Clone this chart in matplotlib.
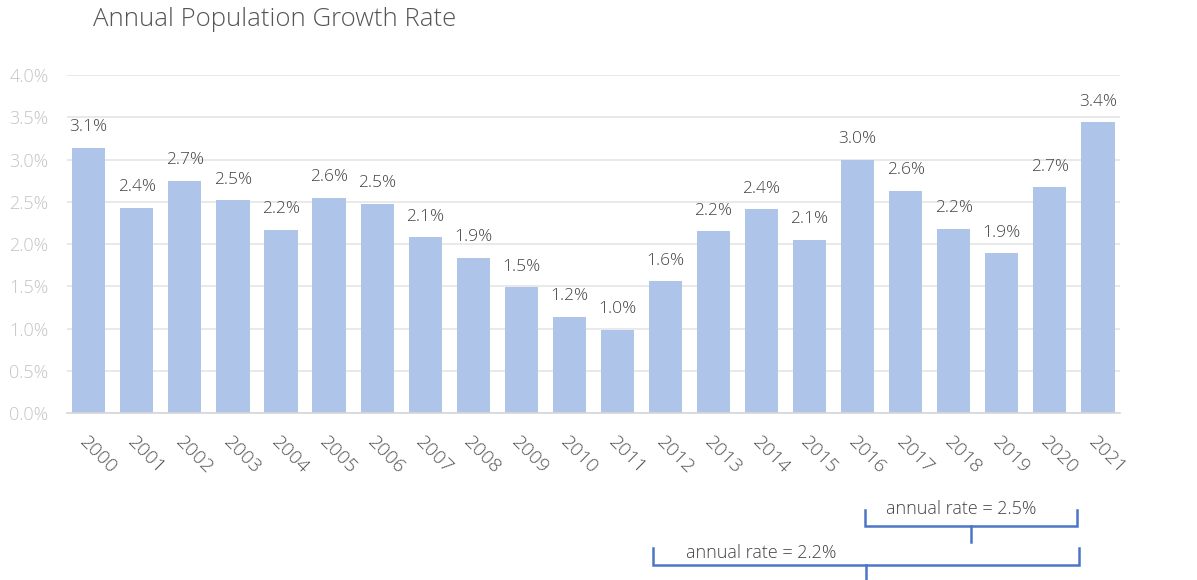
import matplotlib
matplotlib.use("Agg")
import matplotlib.pyplot as plt
import matplotlib.transforms as mtransforms

years = [str(y) for y in range(2000, 2022)]
rates = [3.14, 2.43, 2.75, 2.52, 2.17, 2.55, 2.48, 2.08, 1.84, 1.49, 1.14,
         0.99, 1.56, 2.15, 2.41, 2.05, 3.00, 2.63, 2.18, 1.89, 2.67, 3.44]
labels = ["3.1%", "2.4%", "2.7%", "2.5%", "2.2%", "2.6%", "2.5%", "2.1%", "1.9%",
          "1.5%", "1.2%", "1.0%", "1.6%", "2.2%", "2.4%", "2.1%", "3.0%", "2.6%",
          "2.2%", "1.9%", "2.7%", "3.4%"]
yticks = [0.0, 0.5, 1.0, 1.5, 2.0, 2.5, 3.0, 3.5, 4.0]
ytick_labels = ["0.0%", "0.5%", "1.0%", "1.5%", "2.0%", "2.5%", "3.0%", "3.5%", "4.0%"]
bracket_texts = ["annual rate = 2.5%", "annual rate = 2.2%"]

plt.rcParams['font.family'] = ['Open Sans', 'DejaVu Sans']
FW = "light"

fig = plt.figure(figsize=(11.97, 5.8), dpi=100)
ax = fig.add_axes([0.0557, 0.2874, 0.88, 0.5833])

x = list(range(len(years)))
ax.bar(x, rates, width=0.69, color="#afc4e9", zorder=2)
for xi, r, lab in zip(x, rates, labels):
    ax.annotate(lab, (xi, r), xytext=(0, 9), textcoords="offset points",
                ha="center", va="bottom", fontsize=12.5, color="#444444",
                fontweight=FW)

ax.set_xlim(-0.46, len(years) - 1 + 0.46)
ax.set_ylim(0, 4.0)
ax.set_yticks(yticks)
ax.set_yticklabels(ytick_labels, fontsize=13, color="#c4c4c4", fontweight=FW)
ax.set_xticks(x)
ax.set_xticklabels(years, rotation=-45, ha="left", va="top",
                   rotation_mode="anchor", fontsize=14, color="#555555",
                   fontweight=FW)
ax.tick_params(axis="both", length=0)
ax.tick_params(axis="y", pad=13)
ax.tick_params(axis="x", pad=14)
ax.grid(axis="y", color="#e3e3e3", linewidth=1.1, zorder=0)
for s in ["top", "right", "left"]:
    ax.spines[s].set_visible(False)
ax.spines["bottom"].set_color("#d6d6d6")
ax.spines["bottom"].set_linewidth(1.2)

fig.text(0.078, 0.966, "Annual Population Growth Rate", fontsize=18.5,
         color="#555555", ha="left", va="center", fontweight=FW)

# brackets
trans = mtransforms.blended_transform_factory(ax.transData, ax.transAxes)
bc = "#4a76c6"

def bracket(x0, x1, xm, ytop, ybar, ybot):
    ax.plot([x0, x0, x1, x1], [ytop, ybar, ybar, ytop], transform=trans,
            color=bc, lw=1.8, clip_on=False, solid_joinstyle="miter")
    ax.plot([xm, xm], [ybar, ybot], transform=trans, color=bc, lw=1.8,
            clip_on=False)

bracket(16.15, 20.56, 18.36, -0.286, -0.333, -0.380)
ax.text(18.15, -0.282, bracket_texts[0], transform=trans, ha="center",
        va="center", fontsize=13, color="#444444", fontweight=FW)
bracket(11.74, 20.60, 16.17, -0.398, -0.448, -0.50)
ax.text(14.0, -0.412, bracket_texts[1], transform=trans, ha="center",
        va="center", fontsize=13, color="#444444", fontweight=FW)

fig.savefig("out.png", dpi=100)
